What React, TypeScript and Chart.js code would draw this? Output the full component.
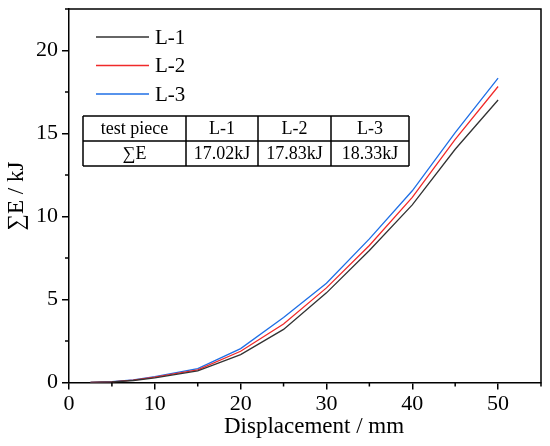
import React, { useEffect, useRef } from "react";
import { Chart, registerables } from "chart.js";

Chart.register(...registerables);

// displacement (mm) and cumulative energy (kJ)
const displacement = [2.5, 5, 7.5, 10, 15, 20, 25, 30, 35, 40, 45, 50];
const energyL1 = [0, 0.03, 0.12, 0.28, 0.7, 1.68, 3.2, 5.4, 7.95, 10.7, 14.05, 17.02];
const energyL2 = [0, 0.04, 0.14, 0.32, 0.76, 1.88, 3.52, 5.7, 8.25, 11.15, 14.65, 17.83];
const energyL3 = [0, 0.05, 0.16, 0.36, 0.84, 2.04, 3.92, 5.98, 8.65, 11.55, 15.05, 18.33];

const seriesNames = ["L-1", "L-2", "L-3"];
const seriesColors = ["#333333", "#f02a2a", "#1f6fe6"];

const tableHeader = ["test piece", "L-1", "L-2", "L-3"];
const tableValues = ["∑E", "17.02kJ", "17.83kJ", "18.33kJ"];

const xMinorTicks = [5, 15, 25, 35, 45, 55];
const yMinorTicks = [2.5, 7.5, 12.5, 17.5, 22.5];

const FONT = "'Liberation Serif', 'Times New Roman', serif";

const toPoints = (ys: number[]) => displacement.map((x, i) => ({ x, y: ys[i] }));

// frame, minor ticks, legend, table and axis titles
const decorPlugin = {
    id: "decor",
    afterDraw: (chart: any) => {
        const { ctx, chartArea: a, scales } = chart;
        ctx.save();
        ctx.strokeStyle = "#000";
        ctx.lineWidth = 1.5;

        ctx.beginPath();
        ctx.moveTo(a.left, a.top);
        ctx.lineTo(a.right, a.top);
        ctx.lineTo(a.right, a.bottom);
        xMinorTicks.forEach((v) => {
            const px = scales.x.getPixelForValue(v);
            ctx.moveTo(px, a.bottom);
            ctx.lineTo(px, a.bottom + 4);
        });
        yMinorTicks.forEach((v) => {
            const py = scales.y.getPixelForValue(v);
            ctx.moveTo(a.left, py);
            ctx.lineTo(a.left - 4, py);
        });
        ctx.stroke();

        // legend
        ctx.fillStyle = "#000";
        ctx.font = `21px ${FONT}`;
        ctx.textBaseline = "middle";
        ctx.textAlign = "left";
        chart.data.datasets.forEach((ds: any, i: number) => {
            const y = 37 + i * 28.5;
            ctx.strokeStyle = ds.borderColor;
            ctx.lineWidth = 1.5;
            ctx.beginPath();
            ctx.moveTo(96, y);
            ctx.lineTo(149, y);
            ctx.stroke();
            ctx.fillText(ds.label, 155, y + 1);
        });

        // table
        const cols = [83, 186, 258, 331, 409];
        const rows = [116, 141, 166];
        ctx.strokeStyle = "#000";
        ctx.lineWidth = 1.5;
        ctx.beginPath();
        rows.forEach((r) => {
            ctx.moveTo(cols[0], r);
            ctx.lineTo(cols[cols.length - 1], r);
        });
        cols.forEach((c) => {
            ctx.moveTo(c, rows[0]);
            ctx.lineTo(c, rows[rows.length - 1]);
        });
        ctx.stroke();
        ctx.font = `18px ${FONT}`;
        ctx.textAlign = "center";
        [tableHeader, tableValues].forEach((row, r) => {
            row.forEach((txt, c) => {
                ctx.fillText(txt, (cols[c] + cols[c + 1]) / 2, (rows[r] + rows[r + 1]) / 2 + 1);
            });
        });

        // axis titles
        ctx.font = `23px ${FONT}`;
        ctx.fillText("Displacement / mm", 314, 427);
        ctx.translate(17, 196);
        ctx.rotate(-Math.PI / 2);
        ctx.fillText("∑E / kJ", 0, 0);
        ctx.restore();
    },
};

const App: React.FC = () => {
    const canvasRef = useRef<HTMLCanvasElement | null>(null);

    useEffect(() => {
        document.body.style.margin = "0";
        if (!canvasRef.current) return;
        const tickFont = { family: FONT, size: 22 };

        const chart = new Chart(canvasRef.current, {
            type: "line",
            data: {
                datasets: [energyL1, energyL2, energyL3].map((ys, i) => ({
                    label: seriesNames[i],
                    data: toPoints(ys),
                    borderColor: seriesColors[i],
                    backgroundColor: seriesColors[i],
                    borderWidth: 1.3,
                    pointRadius: 0,
                    tension: 0,
                    fill: false,
                })),
            },
            options: {
                animation: false,
                responsive: true,
                maintainAspectRatio: false,
                layout: { padding: { top: 9, right: 9, left: 0, bottom: 0 } },
                plugins: {
                    legend: { display: false },
                    tooltip: { enabled: false },
                },
                scales: {
                    x: {
                        type: "linear",
                        min: 0,
                        max: 55,
                        afterFit: (scale: any) => {
                            scale.height = 63.5;
                            scale.paddingLeft = 0;
                            scale.paddingRight = 0;
                        },
                        ticks: {
                            stepSize: 10,
                            includeBounds: false,
                            font: tickFont,
                            color: "#000",
                            padding: 2,
                            maxRotation: 0,
                        },
                        grid: {
                            drawOnChartArea: false,
                            drawTicks: true,
                            tickLength: 7,
                            color: "#000",
                            lineWidth: 1.5,
                        },
                        border: { display: true, color: "#000", width: 1.5 },
                    },
                    y: {
                        type: "linear",
                        min: 0,
                        max: 22.5,
                        afterFit: (scale: any) => {
                            scale.width = 69;
                            scale.paddingTop = 0;
                            scale.paddingBottom = 0;
                        },
                        ticks: {
                            stepSize: 5,
                            includeBounds: false,
                            font: tickFont,
                            color: "#000",
                            padding: 4,
                        },
                        grid: {
                            drawOnChartArea: false,
                            drawTicks: true,
                            tickLength: 7,
                            color: "#000",
                            lineWidth: 1.5,
                        },
                        border: { display: true, color: "#000", width: 1.5 },
                    },
                },
            },
            plugins: [decorPlugin],
        });

        return () => chart.destroy();
    }, []);

    return (
        <div style={{ width: 550, height: 446, position: "relative", background: "#fff" }}>
            <canvas ref={canvasRef} />
        </div>
    );
};

export default App;
